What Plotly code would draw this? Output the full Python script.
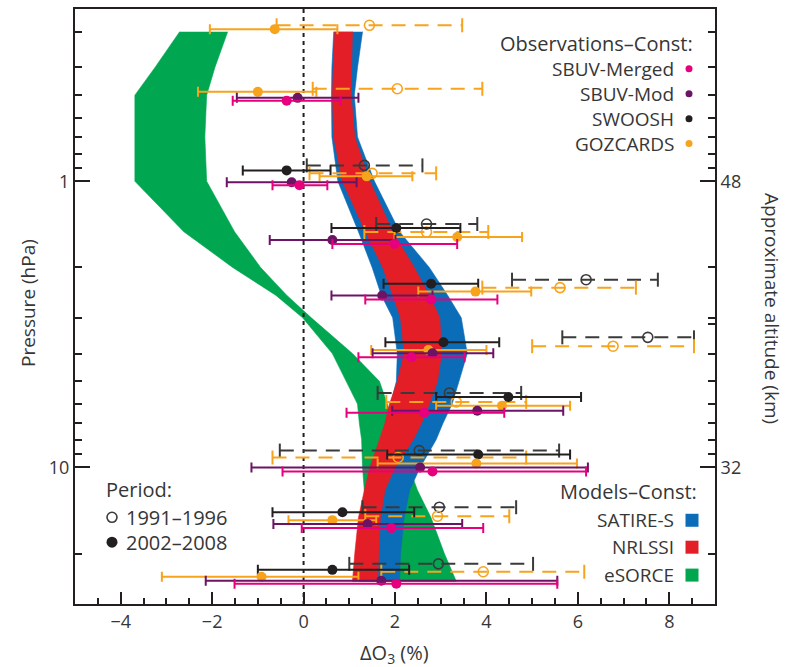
import math
import plotly.graph_objects as go

# ---------------------------------------------------------------------------
# Model envelopes (Models - Const), % ozone change vs pressure (hPa)
# ---------------------------------------------------------------------------
band_p = [0.3, 0.4, 0.5, 0.7, 1.0, 1.5, 2.0, 2.5, 3.0, 4.0, 5.0, 6.0, 7.0, 8.0,
          10, 12, 15, 20, 25]

esorce_lo = [-2.71, -3.25, -3.69, -3.69, -3.69, -2.62, -1.55, -0.61, -0.02, 0.63,
             0.94, 1.18, 1.22, 1.27, 1.29, 1.33, 1.38, 1.44, 1.48]
esorce_hi = [-1.66, -1.94, -2.12, -2.16, -2.12, -1.51, -0.94, -0.37, 0.17, 1.07,
             1.66, 1.82, 1.96, 2.10, 2.31, 2.49, 2.79, 3.08, 3.34]

satire_lo = [0.66, 0.62, 0.61, 0.62, 0.75, 1.20, 1.50, 1.70, 1.95, 2.05,
             2.03, 1.90, 1.80, 1.70, 1.55, 1.45, 1.35, 1.25, 1.20]
satire_hi = [1.29, 1.18, 1.11, 1.18, 1.55, 2.10, 2.75, 3.15, 3.45, 3.58,
             3.40, 3.25, 3.05, 2.90, 2.55, 2.32, 2.20, 2.12, 2.10]

nrlssi_lo = [0.68, 0.65, 0.63, 0.66, 0.85, 1.35, 1.73, 1.95, 2.12, 2.20,
             2.05, 1.88, 1.78, 1.66, 1.45, 1.33, 1.20, 1.12, 1.07]
nrlssi_hi = [1.07, 1.05, 1.04, 1.12, 1.45, 1.95, 2.42, 2.75, 2.98, 3.02,
             2.93, 2.75, 2.58, 2.40, 2.00, 1.78, 1.68, 1.64, 1.62]

# ---------------------------------------------------------------------------
# Observations - Const: value with lower / upper bound, per period
# ---------------------------------------------------------------------------
# SWOOSH
swoosh_early_p = [0.880, 1.41, 2.207, 3.51, 5.49, 8.73, 13.77, 21.72]
swoosh_early_x = [1.33, 2.69, 6.18, 7.53, 3.19, 2.53, 2.97, 2.95]
swoosh_early_lo = [0.07, 1.59, 4.56, 5.66, 1.62, -0.52, 1.29, 1.00]
swoosh_early_hi = [2.60, 3.80, 7.75, 8.54, 4.76, 5.59, 4.65, 5.02]

swoosh_late_p = [0.916, 1.456, 2.279, 3.65, 5.67, 9.01, 14.33, 22.79]
swoosh_late_x = [-0.37, 2.03, 2.79, 3.06, 4.48, 3.82, 0.85, 0.63]
swoosh_late_lo = [-1.33, 0.61, 1.75, 1.79, 2.90, 1.83, -0.68, -1.00]
swoosh_late_hi = [0.59, 3.43, 3.82, 4.28, 6.07, 5.83, 2.42, 2.31]

# GOZCARDS
gozcards_early_p = [0.285, 0.475, 0.938, 1.504, 2.353, 3.77, 5.90, 9.23, 14.80, 23.14]
gozcards_early_x = [1.44, 2.05, 1.50, 2.69, 5.61, 6.77, 3.34, 2.07, 2.93, 3.93]
gozcards_early_lo = [-0.59, 0.20, 0.13, 1.33, 3.91, 5.00, 1.81, -0.68, 1.35, 1.70]
gozcards_early_hi = [3.47, 3.91, 2.90, 4.04, 7.27, 8.54, 4.87, 4.87, 4.50, 6.14]

gozcards_late_p = [0.294, 0.487, 0.961, 1.565, 2.429, 3.89, 6.09, 9.68, 15.28, 24.09]
gozcards_late_x = [-0.63, -1.00, 1.38, 3.36, 3.76, 2.73, 4.34, 3.78, 0.63, -0.92]
gozcards_late_lo = [-2.05, -2.31, 0.35, 1.99, 2.51, 1.48, 2.90, 1.62, -0.33, -3.10]
gozcards_late_hi = [0.74, 0.28, 2.38, 4.78, 4.98, 4.00, 5.83, 5.98, 1.59, 1.20]

# SBUV-Mod (2002-2008)
sbuv_mod_p = [0.511, 1.008, 1.603, 2.508, 3.99, 6.34, 10.0, 15.77, 24.88]
sbuv_mod_x = [-0.13, -0.26, 0.63, 1.72, 2.82, 3.80, 2.55, 1.40, 1.70]
sbuv_mod_lo = [-1.46, -1.68, -0.74, 0.61, 1.51, 1.94, -1.14, -0.66, -2.14]
sbuv_mod_hi = [1.20, 1.16, 2.01, 2.82, 4.15, 5.68, 6.22, 3.47, 5.55]

# SBUV-Merged (2002-2008)
sbuv_merged_p = [0.523, 1.032, 1.655, 2.589, 4.12, 6.44, 10.33, 16.29, 25.49]
sbuv_merged_x = [-0.37, -0.09, 1.99, 2.79, 2.36, 2.64, 2.82, 1.92, 2.03]
sbuv_merged_lo = [-1.55, -0.68, 0.63, 1.35, 1.20, 0.94, -0.46, -0.04, -1.51]
sbuv_merged_hi = [0.81, 0.52, 3.36, 4.24, 3.52, 4.39, 6.18, 3.93, 5.55]

# Axis ticks
x_tick_vals = [-4, -2, 0, 2, 4, 6, 8]
x_tick_text = ["\u22124", "\u22122", "0", "2", "4", "6", "8"]
p_tick_vals = [1, 10]
p_tick_text = ["1", "10"]
alt_tick_text = ["48", "32"]
p_minor_vals = [0.3, 0.4, 0.5, 0.6, 0.7, 0.8, 0.9, 2, 3, 4, 5, 6, 7, 8, 9, 20, 30]
alt_minor_vals = p_minor_vals + [10 ** 0.5]

P_RANGE = [0.25, 30]
X_RANGE = [-5, 9]

# ---------------------------------------------------------------------------
PINK = "#e6007e"
PURPLE = "#6c1464"
BLACK = "#231f20"
DARKDASH = "#3a3a3a"
ORANGE = "#f8a31c"
BLUE = "#0b6cb8"
RED = "#e41e26"
GREEN = "#00a650"
TEXT = "#363636"
FONT = "Open Sans"

fig = go.Figure()


def add_band(lo, hi, color):
    xs = list(lo) + list(reversed(hi))
    ys = list(band_p) + list(reversed(band_p))
    fig.add_trace(go.Scatter(x=xs, y=ys, fill="toself", fillcolor=color,
                             mode="lines", line=dict(width=0.6, color=color),
                             hoverinfo="skip", showlegend=False))


add_band(esorce_lo, esorce_hi, GREEN)
add_band(satire_lo, satire_hi, BLUE)
add_band(nrlssi_lo, nrlssi_hi, RED)

# zero reference line
fig.add_trace(go.Scatter(x=[0, 0], y=P_RANGE, mode="lines",
                         line=dict(color=BLACK, width=2, dash="4px,4px"),
                         hoverinfo="skip", showlegend=False))


def add_dashed(p, x, lo, hi, color):
    lx, ly = [], []
    for pi, l, h in zip(p, lo, hi):
        lx += [l, h, None]
        ly += [pi, pi, None]
    fig.add_trace(go.Scatter(x=lx, y=ly, mode="lines",
                             line=dict(color=color, width=2, dash="14px,9px"),
                             hoverinfo="skip", showlegend=False))
    fig.add_trace(go.Scatter(x=list(lo) + list(hi), y=list(p) + list(p),
                             mode="markers",
                             marker=dict(symbol="line-ns", size=10,
                                         line=dict(color=color, width=2)),
                             hoverinfo="skip", showlegend=False))
    fig.add_trace(go.Scatter(x=x, y=p, mode="markers",
                             marker=dict(symbol="circle-open", size=10, color=color,
                                         line=dict(width=1.6)),
                             showlegend=False))


def add_solid(p, x, lo, hi, color):
    fig.add_trace(go.Scatter(
        x=x, y=p, mode="markers",
        marker=dict(symbol="circle", size=10, color=color),
        error_x=dict(type="data", symmetric=False,
                     array=[h - v for v, h in zip(x, hi)],
                     arrayminus=[v - l for v, l in zip(x, lo)],
                     color=color, thickness=2, width=5),
        showlegend=False))


add_dashed(swoosh_early_p, swoosh_early_x, swoosh_early_lo, swoosh_early_hi, DARKDASH)
add_dashed(gozcards_early_p, gozcards_early_x, gozcards_early_lo, gozcards_early_hi, ORANGE)
add_solid(swoosh_late_p, swoosh_late_x, swoosh_late_lo, swoosh_late_hi, BLACK)
add_solid(gozcards_late_p, gozcards_late_x, gozcards_late_lo, gozcards_late_hi, ORANGE)
add_solid(sbuv_mod_p, sbuv_mod_x, sbuv_mod_lo, sbuv_mod_hi, PURPLE)
add_solid(sbuv_merged_p, sbuv_merged_x, sbuv_merged_lo, sbuv_merged_hi, PINK)

# carrier for the altitude axis
fig.add_trace(go.Scatter(x=[None], y=[None], yaxis="y2", showlegend=False,
                         hoverinfo="skip"))

# ---------------------------------------------------------------------------
# Layout
W, H = 792, 667
L, R, T, B = 75, 77, 7, 63
PW, PH = W - L - R, H - T - B


def px(xpix):
    return (xpix - L) / PW


def py(ypix):
    return (H - B - ypix) / PH


axis_font = dict(family=FONT, size=18, color=TEXT)
log_range = [math.log10(P_RANGE[1]), math.log10(P_RANGE[0])]

fig.update_layout(
    width=W, height=H,
    margin=dict(l=L, r=R, t=T, b=B),
    paper_bgcolor="white", plot_bgcolor="white",
    font=dict(family=FONT, color=TEXT),
    showlegend=False,
    xaxis=dict(range=X_RANGE, tickvals=x_tick_vals, ticktext=x_tick_text,
               ticks="inside", ticklen=12, tickwidth=1.5, tickcolor=BLACK,
               showline=True, linecolor=BLACK, linewidth=2, mirror=True,
               showgrid=False, zeroline=False, tickfont=axis_font,
               minor=dict(dtick=0.5, tick0=0, ticks="inside", ticklen=6,
                          tickwidth=1.5, tickcolor=BLACK, showgrid=False)),
    yaxis=dict(type="log", range=log_range, tickvals=p_tick_vals,
               ticktext=p_tick_text, ticks="inside", ticklen=15, tickwidth=1.5,
               tickcolor=BLACK, showline=True, linecolor=BLACK, linewidth=2,
               showgrid=False, zeroline=False, tickfont=axis_font,
               minor=dict(tickvals=p_minor_vals, ticks="inside", ticklen=7,
                          tickwidth=1.5, tickcolor=BLACK, showgrid=False)),
    yaxis2=dict(type="log", range=log_range, overlaying="y", side="right",
                tickvals=p_tick_vals, ticktext=alt_tick_text, ticks="inside",
                ticklen=15, tickwidth=1.5, tickcolor=BLACK, showline=True,
                linecolor=BLACK, linewidth=2, showgrid=False, zeroline=False,
                tickfont=axis_font,
                minor=dict(tickvals=alt_minor_vals, ticks="inside", ticklen=7,
                           tickwidth=1.5, tickcolor=BLACK, showgrid=False)),
)

ann = []
shapes = []


def text(xpix, ypix, s, anchor="right", size=19, angle=0):
    ann.append(dict(x=px(xpix), y=py(ypix), xref="paper", yref="paper",
                    text=s, showarrow=False, xanchor=anchor, yanchor="middle",
                    textangle=angle, borderpad=0,
                    font=dict(family=FONT, size=size, color=TEXT)))


def dot(xpix, ypix, d, color, kind="circle", open_=False):
    shapes.append(dict(type=kind, xref="paper", yref="paper",
                       xsizemode="pixel", ysizemode="pixel",
                       xanchor=px(xpix), yanchor=py(ypix),
                       x0=-d / 2, x1=d / 2, y0=-d / 2, y1=d / 2,
                       fillcolor="white" if open_ else color,
                       line=dict(color=color, width=1.6 if open_ else 0)))


# axis titles
text(28, 302, "Pressure (hPa)", anchor="center", size=19, angle=-90)
text(772, 307, "Approximate altitude (km)", anchor="center", size=19, angle=90)
text(394, 654, "\u0394O<sub>3</sub> (%)", anchor="center", size=20)

# observations key
text(694, 42, "Observations\u2013Const:", size=20)
obs_key = [("SBUV-Merged", PINK, 67), ("SBUV-Mod", PURPLE, 92),
           ("SWOOSH", BLACK, 117), ("GOZCARDS", ORANGE, 142)]
for name, col, yy in obs_key:
    text(675, yy, name)
    dot(689, yy, 7, col)

# models key
text(698, 491, "Models\u2013Const:", size=20)
mod_key = [("SATIRE-S", BLUE, 520), ("NRLSSI", RED, 547), ("eSORCE", GREEN, 575)]
for name, col, yy in mod_key:
    text(675, yy, name)
    dot(692, yy, 13, col, kind="rect")

# period key
text(105, 489, "Period:", anchor="left", size=20)
text(125, 517, "1991\u20131996", anchor="left", size=20)
text(125, 542, "2002\u20132008", anchor="left", size=20)
dot(112, 517, 10, DARKDASH, open_=True)
dot(112, 542, 11, BLACK)

fig.update_layout(annotations=ann, shapes=shapes)

fig.write_html("out.html")
